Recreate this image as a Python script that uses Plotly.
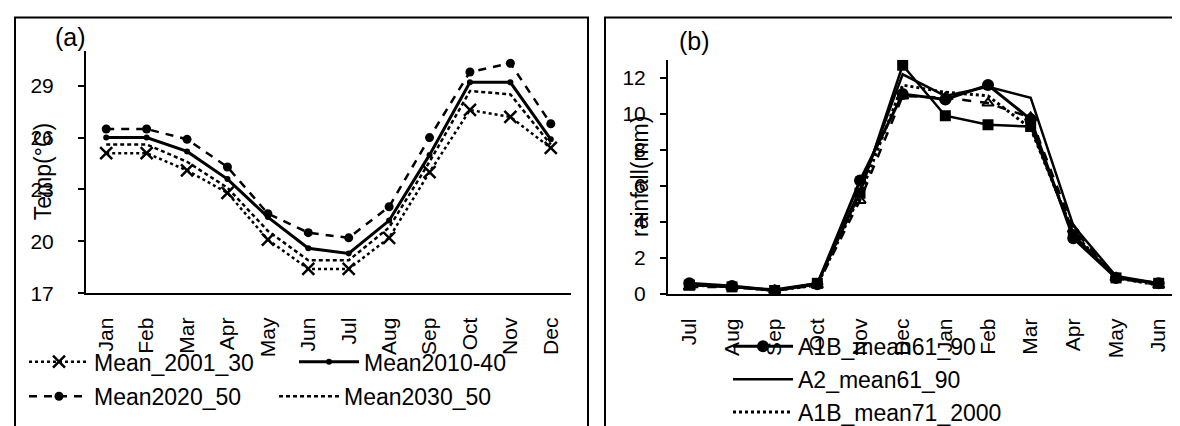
import plotly.graph_objects as go

# panel (a) temperature
months_a = ['Jan', 'Feb', 'Mar', 'Apr', 'May', 'Jun', 'Jul', 'Aug', 'Sep', 'Oct', 'Nov', 'Dec']
mean_2001_30 = [25.1, 25.1, 24.1, 22.8, 20.1, 18.4, 18.4, 20.2, 24.0, 27.6, 27.2, 25.4]
mean_2010_40 = [26.0, 26.0, 25.2, 23.6, 21.4, 19.6, 19.3, 21.2, 25.0, 29.2, 29.2, 25.9]
mean_2020_50 = [26.5, 26.5, 25.9, 24.3, 21.6, 20.5, 20.2, 22.0, 26.0, 29.8, 30.3, 26.8]
mean_2030_50 = [25.6, 25.6, 24.6, 23.1, 20.6, 18.9, 18.9, 20.8, 24.6, 28.7, 28.5, 25.6]
temp_ticks = [17, 20, 23, 26, 29]

# panel (b) rainfall
months_b = ['Jul', 'Aug', 'Sep', 'Oct', 'Nov', 'Dec', 'Jan', 'Feb', 'Mar', 'Apr', 'May', 'Jun']
a1b_61_90 = [0.6, 0.45, 0.2, 0.55, 6.3, 11.1, 10.8, 11.6, 9.7, 3.1, 0.9, 0.6]
a2_61_90 = [0.5, 0.4, 0.25, 0.6, 5.8, 12.2, 11.0, 11.5, 10.9, 3.8, 1.0, 0.6]
a1b_71_2000 = [0.5, 0.4, 0.2, 0.5, 5.5, 11.6, 11.2, 11.0, 9.2, 3.4, 0.9, 0.5]
a2_71_2000 = [0.5, 0.4, 0.2, 0.6, 5.6, 12.7, 9.9, 9.4, 9.3, 3.3, 0.9, 0.6]
b1_61_90 = [0.4, 0.4, 0.2, 0.5, 5.2, 11.0, 10.9, 10.6, 9.8, 3.6, 0.9, 0.5]
rain_ticks = [0, 2, 4, 6, 8, 10, 12]

FONT = 'Liberation Sans, Arial, sans-serif'
W, H = 1180, 426


def px(x):
    return x / W


def py(y):
    return 1 - y / H


fig = go.Figure()

# (a)
fig.add_trace(go.Scatter(x=months_a, y=mean_2001_30, name='Mean_2001_30', mode='lines+markers',
                         line=dict(color='black', width=2.5, dash='dot'),
                         marker=dict(symbol='x-thin-open', size=12, line=dict(width=2.5, color='black')),
                         xaxis='x', yaxis='y', legend='legend'))
fig.add_trace(go.Scatter(x=months_a, y=mean_2010_40, name='Mean2010-40', mode='lines+markers',
                         line=dict(color='black', width=3),
                         marker=dict(symbol='circle', size=6, color='black'),
                         xaxis='x', yaxis='y', legend='legend'))
fig.add_trace(go.Scatter(x=months_a, y=mean_2020_50, name='Mean2020_50', mode='lines+markers',
                         line=dict(color='black', width=2.5, dash='8px,7px'),
                         marker=dict(symbol='circle', size=9, color='black'),
                         xaxis='x', yaxis='y', legend='legend2'))
fig.add_trace(go.Scatter(x=months_a, y=mean_2030_50, name='Mean2030_50', mode='lines',
                         line=dict(color='black', width=2.5, dash='4px,3px'),
                         xaxis='x', yaxis='y', legend='legend2'))

# (b)
fig.add_trace(go.Scatter(x=months_b, y=a1b_61_90, name='A1B_mean61_90', mode='lines+markers',
                         line=dict(color='black', width=3),
                         marker=dict(symbol='circle', size=12, color='black'),
                         xaxis='x2', yaxis='y2', legend='legend3'))
fig.add_trace(go.Scatter(x=months_b, y=a2_61_90, name='A2_mean61_90', mode='lines',
                         line=dict(color='black', width=2.5),
                         xaxis='x2', yaxis='y2', legend='legend3'))
fig.add_trace(go.Scatter(x=months_b, y=a1b_71_2000, name='A1B_mean71_2000', mode='lines',
                         line=dict(color='black', width=3, dash='dot'),
                         xaxis='x2', yaxis='y2', legend='legend3'))
fig.add_trace(go.Scatter(x=months_b, y=a2_71_2000, name='A2_mean71_2000', mode='lines+markers',
                         line=dict(color='black', width=2.5),
                         marker=dict(symbol='square', size=11, color='black'),
                         xaxis='x2', yaxis='y2', showlegend=False))
fig.add_trace(go.Scatter(x=months_b, y=b1_61_90, name='B1_mean61_90', mode='lines+markers',
                         line=dict(color='black', width=2.5, dash='dash'),
                         marker=dict(symbol='triangle-up-open', size=10, line=dict(width=2, color='black')),
                         xaxis='x2', yaxis='y2', showlegend=False))

tickfont = dict(family=FONT, size=21, color='black')
xcommon = dict(type='category', range=[-0.5, 11.5], showline=True, linecolor='black', linewidth=2,
               showgrid=False, zeroline=False, ticks='', tickangle=-90, tickfont=tickfont,
               ticklabelstandoff=14)
ycommon = dict(showline=True, linecolor='black', linewidth=2, showgrid=False, zeroline=False,
               ticks='outside', ticklen=6, tickwidth=1.5, tickcolor='black', tickfont=tickfont)

legfont = dict(family=FONT, size=23, color='black')
legcommon = dict(font=legfont, bgcolor='rgba(0,0,0,0)', itemwidth=60, tracegroupgap=0,
                 xanchor='left', yanchor='top', itemclick=False)


def label(text, x, y, size, angle=0):
    return dict(text=text, x=px(x), y=py(y), xref='paper', yref='paper', showarrow=False,
                xanchor='center', yanchor='middle', textangle=angle,
                font=dict(family=FONT, size=size, color='black'))


fig.update_layout(
    width=W, height=H,
    margin=dict(l=0, r=0, t=0, b=0),
    paper_bgcolor='white', plot_bgcolor='white',
    font=dict(family=FONT, color='black'),
    xaxis=dict(domain=[px(78), px(563)], anchor='y', **xcommon),
    yaxis=dict(domain=[py(297), py(45)], anchor='x', range=[17, 31], tickvals=temp_ticks,
               ticklabelstandoff=20, **ycommon),
    xaxis2=dict(domain=[px(660), px(1172)], anchor='y2', **xcommon),
    yaxis2=dict(domain=[py(298), py(54)], anchor='x2', range=[0, 13], tickvals=rain_ticks,
                ticklabelstandoff=10, **ycommon),
    legend=dict(orientation='h', x=px(16), y=py(346), entrywidth=195, **legcommon),
    legend2=dict(orientation='h', x=px(16), y=py(382), entrywidth=175, **legcommon),
    legend3=dict(orientation='v', x=px(720), y=py(330), **legcommon),
    annotations=[
        label('(a)', 62, 30, 25),
        label('(b)', 686, 34, 25),
        label('Temp(°C)', 35, 171, 23, -90),
        label('rainfall(mm)', 632, 176, 23, -90),
    ],
    shapes=[
        dict(type='rect', xref='paper', yref='paper', x0=px(7), x1=px(580), y0=-0.05, y1=py(10),
             line=dict(color='black', width=2)),
        dict(type='rect', xref='paper', yref='paper', x0=px(597), x1=px(1176), y0=-0.05, y1=py(10),
             line=dict(color='black', width=2)),
    ],
)

fig.write_html('out.html')
